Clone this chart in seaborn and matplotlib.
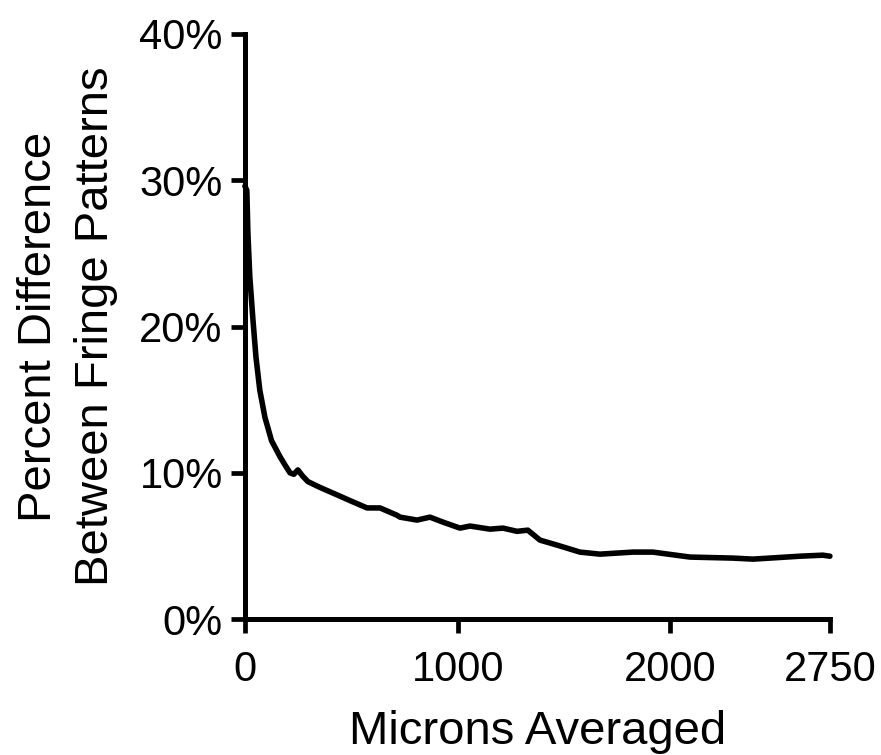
import matplotlib
matplotlib.use("Agg")
import matplotlib.pyplot as plt
from matplotlib.ticker import FuncFormatter
import numpy as np
import pandas as pd
import seaborn as sns

# Averaging distance (microns) and the resulting fringe-pattern difference (%)
microns = [0, 9, 14, 23, 37, 52, 70, 94, 125, 165, 190, 212, 230, 249, 270,
           296, 353, 432, 494, 574, 635, 715, 729, 809, 870, 931, 1011, 1058,
           1152, 1213, 1279, 1330, 1387, 1467, 1575, 1669, 1824, 1918, 2092,
           2294, 2388, 2500, 2609, 2717, 2750]
percent_diff = [29.6, 29.3, 26.4, 23.4, 20.6, 17.9, 15.65, 13.8, 12.2, 11.1,
                10.5, 10.0, 9.9, 10.2, 9.8, 9.4, 9.0, 8.5, 8.1, 7.6, 7.6, 7.1,
                6.97, 6.77, 6.97, 6.63, 6.22, 6.36, 6.15, 6.22, 6.0, 6.08, 5.4,
                5.06, 4.58, 4.44, 4.58, 4.58, 4.24, 4.17, 4.1, 4.2, 4.3, 4.37,
                4.3]

x_ticks = [0, 1000, 2000, 2750]
y_ticks = [0, 10, 20, 30, 40]

df = pd.DataFrame({"Microns Averaged": microns, "Percent": percent_diff})

sns.set_theme(style="ticks")
plt.rcParams["font.family"] = ["Liberation Sans", "DejaVu Sans"]

fig = plt.figure(figsize=(8.81, 7.55), dpi=100)
ax = fig.add_axes([0.278, 0.180, 0.664, 0.775])

sns.lineplot(data=df, x="Microns Averaged", y="Percent", ax=ax,
             color="black", linewidth=4.0, clip_on=False)

ax.set_xlim(0, 2750)
ax.set_ylim(0, 40)
ax.set_xticks(x_ticks)
ax.set_yticks(y_ticks)
ax.yaxis.set_major_formatter(FuncFormatter(lambda v, _: f"{v:.0f}%"))

sns.despine(ax=ax)
for side in ("left", "bottom"):
    ax.spines[side].set_linewidth(3.6)
    ax.spines[side].set_color("black")
ax.tick_params(axis="both", direction="out", length=10, width=3.4,
               color="black", labelsize=30, labelcolor="black")
ax.tick_params(axis="x", pad=12)
ax.tick_params(axis="y", pad=6)

ax.set_xlabel("Microns Averaged", fontsize=34, color="black", labelpad=15)
ax.set_ylabel("Percent Difference\nBetween Fringe Patterns", fontsize=34,
              color="black", labelpad=15, linespacing=1.4)

fig.savefig("out.png", dpi=100, facecolor="white")
